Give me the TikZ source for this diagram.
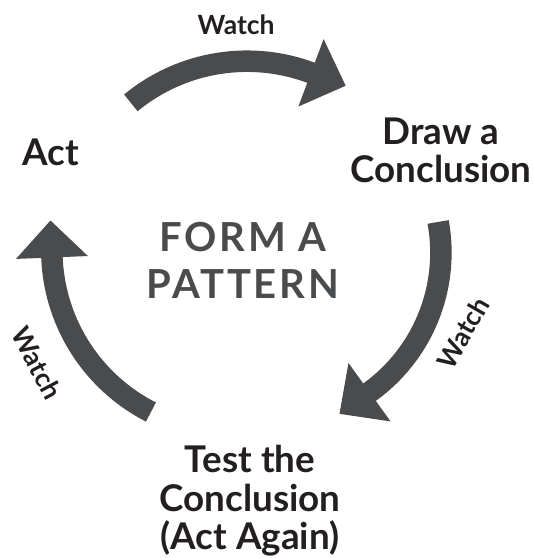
\documentclass[tikz,border=0pt]{standalone}
\usepackage{fontspec}
\setmainfont{Lato}
\newfontfamily\trackedfont[LetterSpace=7]{Lato}
\usetikzlibrary{calc}

\definecolor{arrowgray}{HTML}{4A4B4D}
\definecolor{labelink}{HTML}{231F20}

% #1 centre, #2 radius, #3 start angle, #4 end angle (drawn clockwise)
\newcommand{\cyclearrow}[4]{%
  \draw[shaft] ($(#1)+(#3:#2)$) arc[start angle=#3, end angle=#4-3, radius=#2];
  \fill[headfill] ($(#1)+(#4:#2)+(#4-90:37)$) -- ($(#1)+(#4:#2+36)$)
    -- ($(#1)+(#4:#2-36)$) -- cycle;
}

\begin{document}
\begin{tikzpicture}[x=1pt, y=1pt,
  shaft/.style={draw=arrowgray, line width=21.5pt},
  headfill/.style={fill=arrowgray},
  steplabel/.style={font=\bfseries\fontsize{36.8}{38.5}\selectfont, text=labelink,
    align=center, inner sep=0pt},
  watchlabel/.style={font=\bfseries\fontsize{26.5}{26.5}\selectfont, text=labelink,
    inner sep=0pt},
  hub/.style={font=\trackedfont\bfseries\fontsize{40}{47}\selectfont, text=arrowgray,
    align=center, inner sep=0pt}]
\useasboundingbox (0,0) rectangle (534,558);

% centres of the three arcs
\coordinate (ctop) at (247,314);
\coordinate (cright) at (268.9,305.3);
\coordinate (cleft) at (233.4,307.8);

% stage labels
\node[steplabel] (act) at (51,406) {Act};
\node[steplabel] (conclude) at (441,407.5) {Draw a\\Conclusion};
\node[steplabel] (test) at (250,57) {Test the\\Conclusion\\(Act Again)};
\node[hub] (pattern) at (243,298) {FORM A\\PATTERN};

% curved arrows between the stages
\cyclearrow{ctop}{182.8}{129.45}{69.5}
\cyclearrow{cright}{172}{10.3}{-54.2}
\cyclearrow{cleft}{181.6}{-117}{-177.7}

% arrow labels
\node[watchlabel] (wtop) at (236,533) {Watch};
\node[watchlabel, rotate=60] (wright) at (463,225) {Watch};
\node[watchlabel, rotate=-62] (wleft) at (37,195) {Watch};
\end{tikzpicture}
\end{document}
